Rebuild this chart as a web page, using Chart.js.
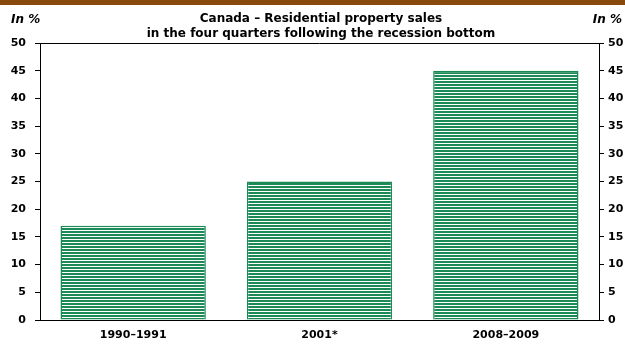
<!DOCTYPE html>
<html>
<head>
<meta charset="utf-8">
<script src="https://cdn.jsdelivr.net/npm/chart.js@4"></script>
<style>
  html, body { margin: 0; padding: 0; background: #fff; }
  #wrap { position: relative; width: 625px; height: 344px; font-family: "DejaVu Sans", sans-serif; }
  #band { position: absolute; left: 0; top: 0; width: 625px; height: 5px; background: #874a0c; }
  .unit { position: absolute; top: 12px; font: italic bold 12px "DejaVu Sans", sans-serif; color: #000; }
  #title { position: absolute; left: 0; width: 642px; top: 11px; text-align: center; font: bold 12px/15px "DejaVu Sans", sans-serif; color: #000; }
  canvas { position: absolute; left: 0; top: 0; }
</style>
</head>
<body>
<div id="wrap">
  <canvas id="chartVentes" width="625" height="344"></canvas>
  <div id="band"></div>
  <div class="unit" style="left:11px;">In %</div>
  <div class="unit" style="right:3px;">In %</div>
  <div id="title">Canada – Residential property sales<br>in the four quarters following the recession bottom</div>
</div>
<script>
const periodes = ["1990–1991", "2001*", "2008–2009"];
const ventes = [17, 25, 45];
const graduations = [0, 5, 10, 15, 20, 25, 30, 35, 40, 45, 50];

// horizontal green hatching used to fill the bars
function motifRayures() {
    const c = document.createElement('canvas');
    c.width = 4; c.height = 3;
    const g = c.getContext('2d');
    g.fillStyle = '#ffffff';
    g.fillRect(0, 0, 4, 3);
    g.fillStyle = '#1c8a57';
    g.fillRect(0, 0, 4, 2);
    return g.createPattern(c, 'repeat');
}

const ctx = document.getElementById('chartVentes').getContext('2d');

const cadreHaut = {
    id: 'cadreHaut',
    afterDraw(chart) {
        const a = chart.chartArea;
        const c = chart.ctx;
        c.save();
        c.strokeStyle = '#000';
        c.lineWidth = 1;
        c.beginPath();
        c.moveTo(a.left, Math.round(a.top) + 0.5);
        c.lineTo(a.right, Math.round(a.top) + 0.5);
        c.stroke();
        c.restore();
    }
};

const policeTicks = { family: '"DejaVu Sans", sans-serif', size: 11, weight: 'bold' };

new Chart(ctx, {
    type: 'bar',
    data: {
        labels: periodes,
        datasets: [{
            data: ventes,
            backgroundColor: motifRayures(),
            borderColor: '#1a8a56',
            borderWidth: 1.5,
            barPercentage: 0.78,
            categoryPercentage: 1
        }]
    },
    options: {
        responsive: false,
        animation: false,
        layout: { padding: { top: 43, left: 0, right: 0, bottom: 0 } },
        plugins: { legend: { display: false }, tooltip: { enabled: false }, title: { display: false } },
        scales: {
            x: {
                grid: { display: false, drawTicks: false },
                border: { display: true, color: '#000', width: 1 },
                ticks: { color: '#000', font: policeTicks, padding: 9 },
                afterFit(s) { s.height = 24; }
            },
            y: {
                position: 'left',
                min: 0, max: 50,
                afterBuildTicks(s) { s.ticks = graduations.map(v => ({ value: v })); },
                grid: { display: true, drawOnChartArea: false, drawTicks: true, tickLength: 5, color: '#000' },
                border: { display: true, color: '#000', width: 1 },
                ticks: { color: '#000', font: policeTicks, padding: 9 },
                afterFit(s) { s.width = 40; }
            },
            y2: {
                position: 'right',
                min: 0, max: 50,
                afterBuildTicks(s) { s.ticks = graduations.map(v => ({ value: v })); },
                grid: { display: true, drawOnChartArea: false, drawTicks: true, tickLength: 5, color: '#000' },
                border: { display: true, color: '#000', width: 1 },
                ticks: { color: '#000', font: policeTicks, padding: 4 },
                afterFit(s) { s.width = 26; }
            }
        }
    },
    plugins: [cadreHaut]
});
</script>
</body>
</html>
